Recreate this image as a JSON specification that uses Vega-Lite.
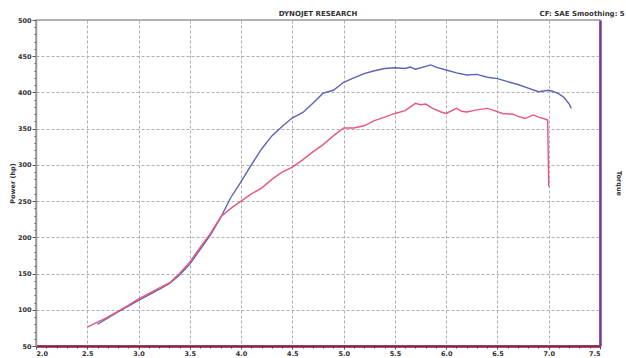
{
  "$schema": "https://vega.github.io/schema/vega-lite/v6.json",
  "autosize": {"type": "none"},
  "width": 564,
  "height": 326,
  "padding": {"left": 36, "top": 20, "right": 26, "bottom": 12},
  "background": "#ffffff",
  "title": {"text": "DYNOJET RESEARCH", "fontSize": 7, "fontWeight": "bold", "font": "DejaVu Sans", "color": "#333", "anchor": "middle", "offset": -7},
  "config": {"view": {"stroke": "#999999", "strokeWidth": 1.5}},
  "datasets": {
    "runs": [
      {"rpm": 2.6, "hp": 80, "run": "blue"}, {"rpm": 2.8, "hp": 97, "run": "blue"}, {"rpm": 3.0, "hp": 113, "run": "blue"},
      {"rpm": 3.2, "hp": 128, "run": "blue"}, {"rpm": 3.3, "hp": 136, "run": "blue"}, {"rpm": 3.4, "hp": 148, "run": "blue"},
      {"rpm": 3.5, "hp": 163, "run": "blue"}, {"rpm": 3.6, "hp": 183, "run": "blue"}, {"rpm": 3.7, "hp": 203, "run": "blue"},
      {"rpm": 3.8, "hp": 227, "run": "blue"}, {"rpm": 3.9, "hp": 255, "run": "blue"}, {"rpm": 4.0, "hp": 277, "run": "blue"},
      {"rpm": 4.1, "hp": 300, "run": "blue"}, {"rpm": 4.2, "hp": 322, "run": "blue"}, {"rpm": 4.3, "hp": 340, "run": "blue"},
      {"rpm": 4.4, "hp": 353, "run": "blue"}, {"rpm": 4.5, "hp": 365, "run": "blue"}, {"rpm": 4.6, "hp": 372, "run": "blue"},
      {"rpm": 4.7, "hp": 385, "run": "blue"}, {"rpm": 4.8, "hp": 399, "run": "blue"}, {"rpm": 4.9, "hp": 403, "run": "blue"},
      {"rpm": 5.0, "hp": 414, "run": "blue"}, {"rpm": 5.1, "hp": 420, "run": "blue"}, {"rpm": 5.2, "hp": 426, "run": "blue"},
      {"rpm": 5.3, "hp": 430, "run": "blue"}, {"rpm": 5.4, "hp": 433, "run": "blue"}, {"rpm": 5.5, "hp": 434, "run": "blue"},
      {"rpm": 5.6, "hp": 433, "run": "blue"}, {"rpm": 5.65, "hp": 435, "run": "blue"}, {"rpm": 5.7, "hp": 432, "run": "blue"},
      {"rpm": 5.8, "hp": 436, "run": "blue"}, {"rpm": 5.85, "hp": 438, "run": "blue"}, {"rpm": 5.9, "hp": 435, "run": "blue"},
      {"rpm": 6.0, "hp": 431, "run": "blue"}, {"rpm": 6.1, "hp": 427, "run": "blue"}, {"rpm": 6.2, "hp": 424, "run": "blue"},
      {"rpm": 6.3, "hp": 425, "run": "blue"}, {"rpm": 6.4, "hp": 421, "run": "blue"}, {"rpm": 6.5, "hp": 419, "run": "blue"},
      {"rpm": 6.6, "hp": 415, "run": "blue"}, {"rpm": 6.7, "hp": 411, "run": "blue"}, {"rpm": 6.8, "hp": 406, "run": "blue"},
      {"rpm": 6.9, "hp": 401, "run": "blue"}, {"rpm": 7.0, "hp": 403, "run": "blue"}, {"rpm": 7.05, "hp": 401, "run": "blue"},
      {"rpm": 7.1, "hp": 398, "run": "blue"}, {"rpm": 7.15, "hp": 393, "run": "blue"}, {"rpm": 7.2, "hp": 384, "run": "blue"},
      {"rpm": 7.22, "hp": 378, "run": "blue"},
      {"rpm": 2.5, "hp": 76, "run": "red"}, {"rpm": 2.7, "hp": 90, "run": "red"}, {"rpm": 2.9, "hp": 106, "run": "red"},
      {"rpm": 3.0, "hp": 115, "run": "red"}, {"rpm": 3.2, "hp": 130, "run": "red"}, {"rpm": 3.3, "hp": 137, "run": "red"},
      {"rpm": 3.4, "hp": 150, "run": "red"}, {"rpm": 3.5, "hp": 166, "run": "red"}, {"rpm": 3.6, "hp": 186, "run": "red"},
      {"rpm": 3.7, "hp": 205, "run": "red"}, {"rpm": 3.8, "hp": 228, "run": "red"}, {"rpm": 3.9, "hp": 240, "run": "red"},
      {"rpm": 4.0, "hp": 250, "run": "red"}, {"rpm": 4.1, "hp": 260, "run": "red"}, {"rpm": 4.2, "hp": 268, "run": "red"},
      {"rpm": 4.3, "hp": 280, "run": "red"}, {"rpm": 4.4, "hp": 290, "run": "red"}, {"rpm": 4.5, "hp": 297, "run": "red"},
      {"rpm": 4.6, "hp": 307, "run": "red"}, {"rpm": 4.7, "hp": 318, "run": "red"}, {"rpm": 4.8, "hp": 328, "run": "red"},
      {"rpm": 4.9, "hp": 340, "run": "red"}, {"rpm": 5.0, "hp": 351, "run": "red"}, {"rpm": 5.1, "hp": 351, "run": "red"},
      {"rpm": 5.2, "hp": 354, "run": "red"}, {"rpm": 5.3, "hp": 361, "run": "red"}, {"rpm": 5.4, "hp": 366, "run": "red"},
      {"rpm": 5.5, "hp": 371, "run": "red"}, {"rpm": 5.6, "hp": 375, "run": "red"}, {"rpm": 5.7, "hp": 385, "run": "red"},
      {"rpm": 5.75, "hp": 383, "run": "red"}, {"rpm": 5.8, "hp": 384, "run": "red"}, {"rpm": 5.87, "hp": 378, "run": "red"},
      {"rpm": 5.95, "hp": 373, "run": "red"}, {"rpm": 6.0, "hp": 371, "run": "red"}, {"rpm": 6.1, "hp": 378, "run": "red"},
      {"rpm": 6.15, "hp": 374, "run": "red"}, {"rpm": 6.2, "hp": 373, "run": "red"}, {"rpm": 6.3, "hp": 376, "run": "red"},
      {"rpm": 6.4, "hp": 378, "run": "red"}, {"rpm": 6.45, "hp": 376, "run": "red"}, {"rpm": 6.55, "hp": 371, "run": "red"},
      {"rpm": 6.65, "hp": 370, "run": "red"}, {"rpm": 6.7, "hp": 367, "run": "red"}, {"rpm": 6.77, "hp": 364, "run": "red"},
      {"rpm": 6.85, "hp": 369, "run": "red"}, {"rpm": 6.9, "hp": 366, "run": "red"}, {"rpm": 6.95, "hp": 364, "run": "red"},
      {"rpm": 6.99, "hp": 362, "run": "red"}, {"rpm": 7.0, "hp": 270, "run": "red"}
    ],
    "notes": [{"rpm": 6.91, "hp": 508, "label": "CF: SAE  Smoothing: 5"}]
  },
  "layer": [
    {
      "data": {"name": "runs"},
      "mark": {"type": "line", "strokeWidth": 1.4},
      "encoding": {
        "x": {"field": "rpm", "type": "quantitative",
          "scale": {"domain": [2, 7.5], "nice": false, "zero": false},
          "axis": {"title": null, "values": [2.0,2.1,2.2,2.3,2.4,2.5,2.6,2.7,2.8,2.9,3.0,3.1,3.2,3.3,3.4,3.5,3.6,3.7,3.8,3.9,4.0,4.1,4.2,4.3,4.4,4.5,4.6,4.7,4.8,4.9,5.0,5.1,5.2,5.3,5.4,5.5,5.6,5.7,5.8,5.9,6.0,6.1,6.2,6.3,6.4,6.5,6.6,6.7,6.8,6.9,7.0,7.1,7.2,7.3,7.4,7.5],
            "format": ".1f",
            "labelOverlap": false,
            "labelExpr": "round(datum.value*10) % 5 === 0 ? datum.label : ''",
            "labelFont": "DejaVu Sans", "labelFontSize": 6.5, "labelFontWeight": "bold", "labelColor": "#333", "labelPadding": 1,
            "tickSize": {"condition": {"test": "round(datum.value*10) % 5 === 0", "value": 3}, "value": 2},
            "tickColor": "#555",
            "domainColor": "#8a2040", "domainWidth": 2.5,
            "grid": true,
            "gridColor": "#b0b0b0",
            "gridDash": [3, 2],
            "gridOpacity": {"condition": {"test": "round(datum.value*10) % 5 === 0", "value": 1}, "value": 0}
          }},
        "y": {"field": "hp", "type": "quantitative",
          "scale": {"domain": [50, 500], "nice": false, "zero": false},
          "axis": {"title": "Power (hp)", "titleFont": "DejaVu Sans", "titleFontSize": 6.5, "titleFontWeight": "bold", "titleColor": "#333", "titlePadding": 2,
            "values": [50,60,70,80,90,100,110,120,130,140,150,160,170,180,190,200,210,220,230,240,250,260,270,280,290,300,310,320,330,340,350,360,370,380,390,400,410,420,430,440,450,460,470,480,490,500],
            "labelOverlap": false,
            "labelExpr": "datum.value % 50 === 0 ? datum.label : ''",
            "labelFont": "DejaVu Sans", "labelFontSize": 6.5, "labelFontWeight": "bold", "labelColor": "#333", "labelPadding": 1,
            "tickSize": {"condition": {"test": "datum.value % 50 === 0", "value": 4}, "value": 2},
            "tickColor": "#555",
            "domainColor": "#999999", "domainWidth": 1.5,
            "grid": true,
            "gridColor": "#b0b0b0",
            "gridDash": [3, 2],
            "gridOpacity": {"condition": {"test": "datum.value % 50 === 0", "value": 1}, "value": 0}
          }},
        "color": {"field": "run", "type": "nominal", "scale": {"domain": ["blue", "red"], "range": ["#5a63b5", "#e8587a"]}, "legend": null}
      }
    },
    {
      "data": {"name": "notes"},
      "mark": {"type": "text", "align": "left", "baseline": "middle", "font": "DejaVu Sans", "fontSize": 7, "fontWeight": "bold", "color": "#333", "clip": false},
      "encoding": {
        "x": {"field": "rpm", "type": "quantitative",
          "axis": {"title": null, "values": [2.0,2.1,2.2,2.3,2.4,2.5,2.6,2.7,2.8,2.9,3.0,3.1,3.2,3.3,3.4,3.5,3.6,3.7,3.8,3.9,4.0,4.1,4.2,4.3,4.4,4.5,4.6,4.7,4.8,4.9,5.0,5.1,5.2,5.3,5.4,5.5,5.6,5.7,5.8,5.9,6.0,6.1,6.2,6.3,6.4,6.5,6.6,6.7,6.8,6.9,7.0,7.1,7.2,7.3,7.4,7.5],
            "format": ".1f",
            "labelOverlap": false,
            "labelExpr": "round(datum.value*10) % 5 === 0 ? datum.label : ''",
            "labelFont": "DejaVu Sans", "labelFontSize": 6.5, "labelFontWeight": "bold", "labelColor": "#333", "labelPadding": 1,
            "tickSize": {"condition": {"test": "round(datum.value*10) % 5 === 0", "value": 3}, "value": 2},
            "tickColor": "#555",
            "domainColor": "#8a2040", "domainWidth": 2.5,
            "grid": true,
            "gridColor": "#b0b0b0",
            "gridDash": [3, 2],
            "gridOpacity": {"condition": {"test": "round(datum.value*10) % 5 === 0", "value": 1}, "value": 0}
          }},
        "y": {"field": "hp", "type": "quantitative", "scale": {"domain": [50, 500], "nice": false, "zero": false}, "axis": null},
        "text": {"field": "label"}
      }
    },
    {
      "data": {"values": [{"hp": 50}, {"hp": 500}]},
      "mark": {"type": "rule", "opacity": 0},
      "encoding": {
        "y": {"field": "hp", "type": "quantitative",
          "scale": {"domain": [50, 500], "nice": false, "zero": false},
          "axis": {"orient": "right", "title": "Torque", "titleFont": "DejaVu Sans", "titleFontSize": 6.5, "titleFontWeight": "bold", "titleColor": "#333", "titlePadding": 15,
            "labels": false, "ticks": false, "grid": false, "domainColor": "#7a3a9a", "domainWidth": 2.5}}
      }
    }
  ],
  "resolve": {"scale": {"y": "independent"}, "axis": {"y": "independent"}}
}
